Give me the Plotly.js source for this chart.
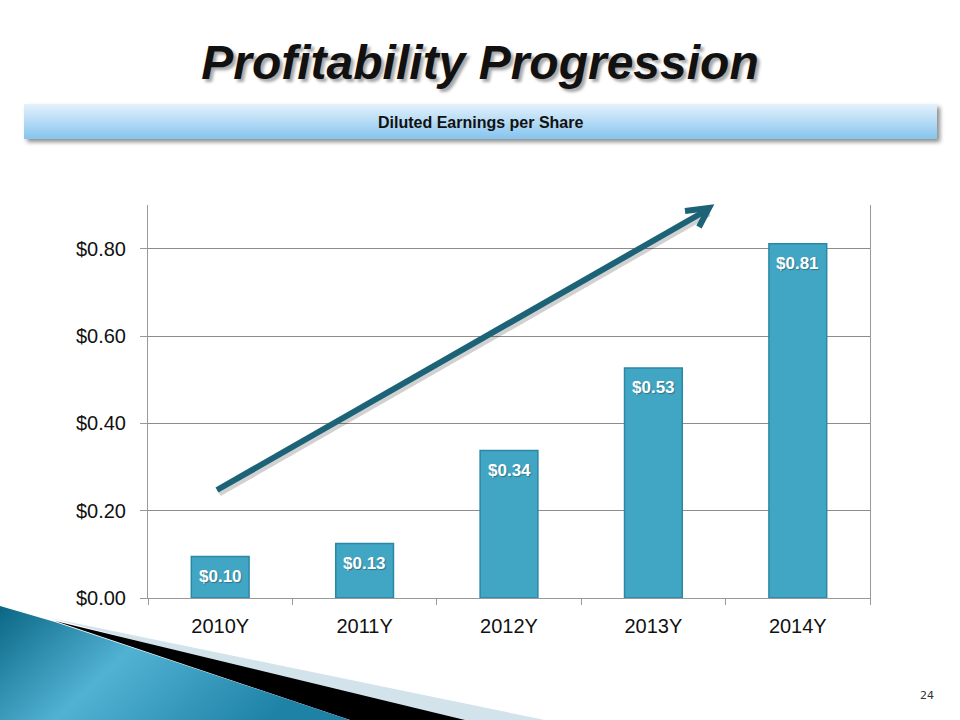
<!DOCTYPE html>
<html>
<head>
<meta charset="utf-8">
<script src="https://cdn.plot.ly/plotly-3.0.1.min.js"></script>
<style>html,body{margin:0;padding:0;background:#fff;}#chart{width:960px;height:720px;}</style>
</head>
<body>
<div id="chart"></div>
<script>
// ---- data ----
const years = ["2010Y", "2011Y", "2012Y", "2013Y", "2014Y"];
const eps = [0.095, 0.125, 0.338, 0.527, 0.811];
const epsLabels = ["$0.10", "$0.13", "$0.34", "$0.53", "$0.81"];
const yTickVals = [0, 0.2, 0.4, 0.6, 0.8];
const yTickText = ["$0.00", "$0.20", "$0.40", "$0.60", "$0.80"];

// ---- layout geometry ----
const W = 960, H = 720;
const M = {l: 148, r: 90, t: 205, b: 122};
const PW = W - M.l - M.r, PH = H - M.t - M.b;
const px = x => (x - M.l) / PW;
const py = y => (H - M.b - y) / PH;

const FONT = "Liberation Sans, Arial, sans-serif";

// decorative background (subtitle band + lower-left swoosh)
const svg = "<svg xmlns='http://www.w3.org/2000/svg' width='960' height='720' viewBox='0 0 960 720' preserveAspectRatio='none'>" +
  "<defs>" +
  "<linearGradient id='band' x1='0' y1='0' x2='0' y2='1'><stop offset='0' stop-color='#e4f2fc'/><stop offset='1' stop-color='#86c4ee'/></linearGradient>" +
  "<filter id='blur' x='-5%' y='-50%' width='110%' height='200%'><feGaussianBlur stdDeviation='2'/></filter>" +
  "<linearGradient id='sw' x1='0' y1='0' x2='1' y2='0.35'><stop offset='0' stop-color='#0a6784'/><stop offset='0.45' stop-color='#52b2d4'/><stop offset='1' stop-color='#1d82a6'/></linearGradient>" +
  "</defs>" +
  "<rect x='27' y='107' width='913' height='35' fill='#666' filter='url(#blur)' opacity='0.75'/>" +
  "<rect x='24' y='104' width='913' height='35' fill='url(#band)'/>" +
  "<polygon points='50,618 545,720 440,720' fill='#d3e3ec'/>" +
  "<polygon points='55,621 465,720 350,720' fill='#000000'/>" +
  "<polygon points='0,606 55,622 350,720 0,720' fill='url(#sw)'/>" +
  "</svg>";
const svgUri = "data:image/svg+xml;charset=utf-8," + encodeURIComponent(svg);

const trace = {
  type: "bar",
  x: years,
  y: eps,
  marker: {color: "#41a6c4", line: {color: "#2b87a5", width: 1.5}},
  hoverinfo: "skip"
};

const annotations = years.map((c, i) => ({
  x: c, y: eps[i], xref: "x", yref: "y",
  text: epsLabels[i], showarrow: false,
  yanchor: "middle", yshift: -20,
  font: {family: FONT, size: 17, color: "#ffffff", weight: "bold",
         shadow: "1px 1px 1px rgba(0,0,0,0.3)"}
}));
annotations.push({
  xref: "paper", yref: "paper", x: px(480), y: py(122),
  text: "Diluted Earnings per Share", showarrow: false,
  xanchor: "center", yanchor: "middle",
  font: {family: FONT, size: 16, color: "#111111", weight: "bold"}
});
annotations.push({
  xref: "paper", yref: "paper", x: px(927), y: py(695),
  text: "24", showarrow: false, xanchor: "center", yanchor: "middle",
  font: {family: "DejaVu Sans, sans-serif", size: 11, color: "#333333"}
});

const arrowColor = "#1d6377";
const shapes = [
  {type: "path", xref: "paper", yref: "paper",
   path: `M ${px(219)} ${py(493)} L ${px(709)} ${py(213)}`,
   line: {color: "rgba(0,0,0,0.18)", width: 7}},
  {type: "path", xref: "paper", yref: "paper",
   path: `M ${px(217)} ${py(490)} L ${px(707)} ${py(210)}`,
   line: {color: arrowColor, width: 6}},
  {type: "path", xref: "paper", yref: "paper",
   path: `M ${px(685)} ${py(211)} L ${px(709)} ${py(208)} L ${px(699)} ${py(227)}`,
   line: {color: arrowColor, width: 6}}
];

const layout = {
  width: W, height: H,
  margin: M,
  paper_bgcolor: "#ffffff",
  plot_bgcolor: "rgba(0,0,0,0)",
  showlegend: false,
  bargap: 0.6,
  title: {
    text: "Profitability Progression",
    x: 0.5, xref: "container", xanchor: "center",
    y: 1 - 62 / H, yref: "container", yanchor: "middle",
    font: {family: FONT, size: 48, color: "#111111", weight: "bold", style: "italic",
           shadow: "3px 3px 3px rgba(0,0,0,0.35)"}
  },
  xaxis: {
    type: "category",
    showline: true, linecolor: "#999999", linewidth: 1,
    ticks: "outside", tickson: "boundaries", ticklen: 6, tickcolor: "#999999",
    showgrid: false,
    tickfont: {family: FONT, size: 20, color: "#111111"},
    ticklabelstandoff: 10
  },
  yaxis: {
    range: [0, 0.9],
    tickvals: yTickVals, ticktext: yTickText,
    showline: true, linecolor: "#999999", linewidth: 1, mirror: true,
    ticks: "outside", ticklen: 7, tickcolor: "#999999",
    showgrid: true, gridcolor: "#8c8c8c", gridwidth: 1,
    zeroline: false,
    tickfont: {family: FONT, size: 20, color: "#111111"},
    ticklabelstandoff: 10
  },
  annotations: annotations,
  shapes: shapes,
  images: [{
    source: svgUri, xref: "paper", yref: "paper",
    x: -M.l / PW, y: (H - M.b) / PH,
    sizex: W / PW, sizey: H / PH,
    xanchor: "left", yanchor: "top", sizing: "stretch", layer: "below"
  }]
};

Plotly.newPlot("chart", [trace], layout, {displayModeBar: false, staticPlot: true});
</script>
</body>
</html>
